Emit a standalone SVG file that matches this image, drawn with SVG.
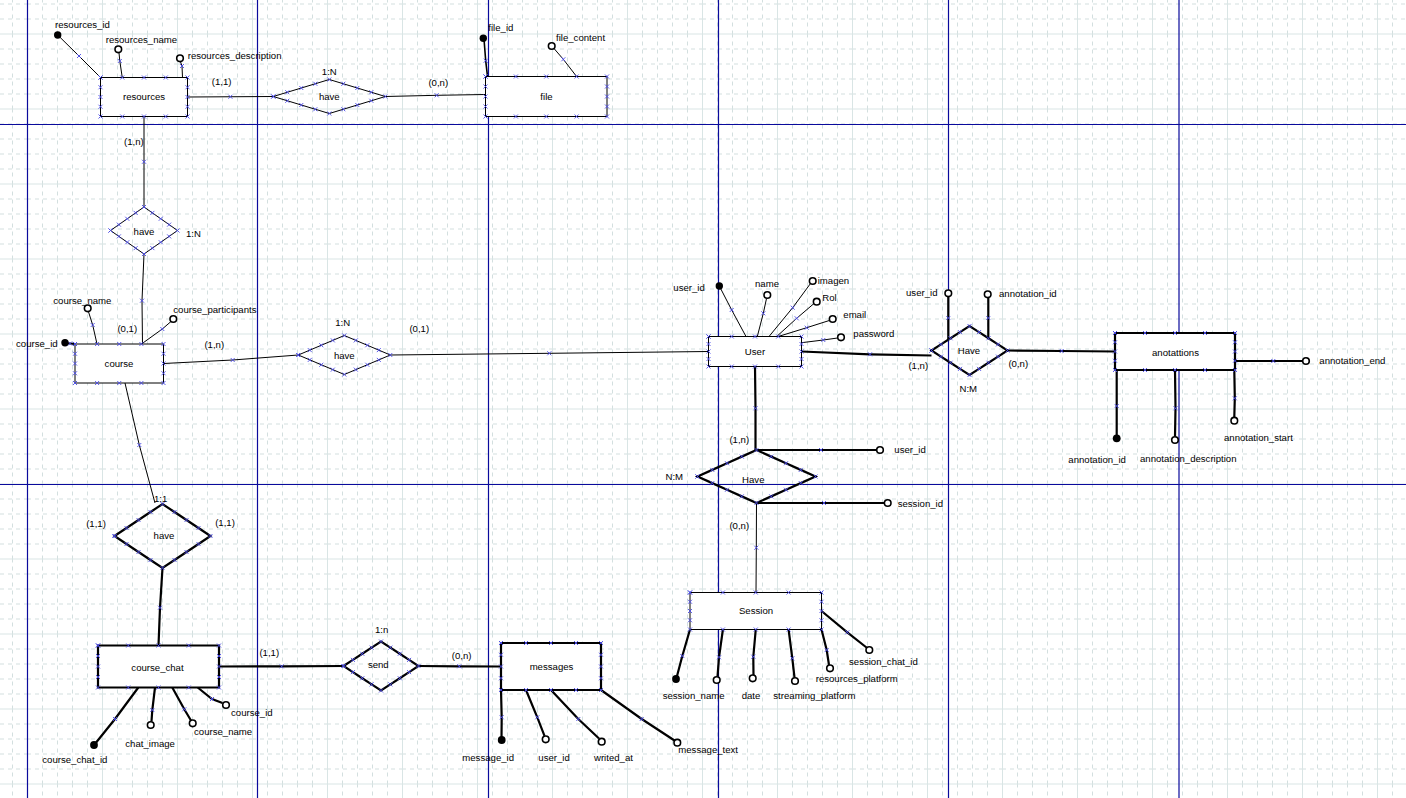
<svg xmlns="http://www.w3.org/2000/svg" width="1406" height="798" viewBox="0 0 1406 798">
<style>
.bg{fill:#fff}
.gs{stroke:#d9e5e5;stroke-width:1;fill:none}
.gd{stroke:#d3dfdf;stroke-width:1;fill:none;stroke-dasharray:4 4}
.pb{stroke:#0a0a9c;stroke-width:1.2;fill:none}
.e{fill:#fff;stroke:#000;stroke-width:1;marker-start:url(#x);marker-mid:url(#x);marker-end:url(#x)}
.e2{stroke-width:2.2}
.r{fill:none;stroke:#000;stroke-width:1;marker-start:url(#x);marker-mid:url(#x);marker-end:url(#x)}
.r2{stroke-width:2.2}
.c{fill:none;stroke:#000;stroke-width:1;marker-mid:url(#x)}
.c2{stroke-width:2.2}
.k{fill:#000}
.o{fill:#fff;stroke:#000;stroke-width:1.6}
text{font-family:"Liberation Sans",Arial,sans-serif;font-size:9.6px;fill:#000}
.m{text-anchor:middle}
</style>
<defs>
<marker id="x" viewBox="-3 -3 6 6" markerWidth="6" markerHeight="6" markerUnits="userSpaceOnUse" refX="0" refY="0" orient="0" overflow="visible">
<path d="M-2,-2L2,2M2,-2L-2,2" stroke="#4a4ae6" stroke-width="0.9" fill="none"/>
</marker>
<pattern id="grid" patternUnits="userSpaceOnUse" x="27" y="33.5" width="75" height="75">
<path class="gd" d="M15.5,0V75M30.5,0V75M45.5,0V75M60.5,0V75M0,15.5H75M0,30.5H75M0,45.5H75M0,60.5H75"/>
<path class="gs" d="M0.5,0V75M0,0.5H75"/>
</pattern>
</defs>
<rect class="bg" x="0" y="0" width="1406" height="798"/>
<rect x="0" y="0" width="1406" height="798" fill="url(#grid)"/>
<g id="pagebreaks">
<path class="pb" d="M27.5,0V798M257.5,0V798M488.5,0V798M718.5,0V798M948.5,0V798M1179,0V798M0,124.5H1406M0,484.5H1406"/>
</g>

<g id="connectors">
<path class="c" d="M187.5,97L230.4,96.75L273.3,96.5"/>
<path class="c" d="M385.3,96.5L436.7,95.3L485.5,94.5"/>
<path class="c" d="M144,116.5L144,161.75L144,207"/>
<path class="c" d="M144,254L142,300.7L142.5,344"/>
<path class="c" d="M163.5,363.5L232.7,360L298.3,355"/>
<path class="c" d="M390.3,355L549.3,353.3L708.5,351.5"/>
<path class="c c2" d="M801.5,351.5L870,354.3L931.5,355.5"/>
<path class="c c2" d="M1007.5,350.5L1061.7,351L1115,351.5"/>
<path class="c c2" d="M755,366.5L755.5,408.3L755.5,450"/>
<path class="c" d="M756.5,503L756.3,547.7L756,592.5"/>
<path class="c" d="M125,383L139.3,445L155,503"/>
<path class="c c2" d="M162.5,568L160,607.7L158.5,645.5"/>
<path class="c c2" d="M219,666.5L281.7,666.3L343.5,666"/>
<path class="c c2" d="M418.5,666L459.3,666.3L501,666.5"/>
</g>

<g id="attribute-links">
<path class="c" d="M57.7,35L79,56L100.5,77.5"/>
<path class="c" d="M119,52.8L119.8,61L122.25,77.5"/>
<path class="c" d="M180.5,61.8L182,66L182.5,77.5"/>
<path class="c c2" d="M484,39L485.7,60.7L487.5,76.5" style="stroke-width:1.6"/>
<path class="c" d="M554,48.5L563.3,59.3L576.6,76.5"/>
<path class="c c2" d="M65,343L70,343.5L75,344"/>
<path class="c" d="M88.5,311.8L92.7,325L97,344"/>
<path class="c" d="M171,321.5L162.3,329L141.5,344"/>
<path class="c" d="M719.3,286L731.7,310L746,336.5"/>
<path class="c" d="M766.5,298.5L763.3,313.3L757.3,336.5"/>
<path class="c" d="M810.5,283.5L792.7,307.7L769,336.5"/>
<path class="c" d="M814,303.5L796.7,318.3L776.7,336.5"/>
<path class="c" d="M829.3,320.5L806.7,327.7L778.3,336.5"/>
<path class="c" d="M837.5,338L823.3,340L801.5,342.7"/>
<path class="c c2" d="M948.3,297L948.3,318L948.3,339.7"/>
<path class="c c2" d="M988.3,298L988.3,318L988.3,338.1"/>
<path class="c c2" d="M1235,361L1273.3,361L1302.5,361"/>
<path class="c c2" d="M1116.7,370L1116.7,406L1116.7,438"/>
<path class="c c2" d="M1175,370L1175.5,408.3L1175,436.5"/>
<path class="c c2" d="M1234.3,370L1234.8,398.3L1234.3,417"/>
<path class="c c2" d="M756.5,450L821,450L876.5,450"/>
<path class="c c2" d="M756.5,503L824,503L884,503"/>
<path class="c c2" d="M690,629.5L682.3,656L676.5,678"/>
<path class="c c2" d="M722.9,629.5L719,657.3L717.5,676.5"/>
<path class="c c2" d="M755.75,629.5L753.3,656.7L753.5,675"/>
<path class="c c2" d="M788.6,629.5L792.3,658.3L794.5,677.5"/>
<path class="c c2" d="M821.5,629.5L826.7,650L829,665"/>
<path class="c c2" d="M821.5,611L847.3,632.3L866.5,647.5"/>
<path class="c c2" d="M138.3,687.5L115,719L94.5,744.5"/>
<path class="c c2" d="M155,687.5L152.3,710L151.5,721.5"/>
<path class="c c2" d="M172.3,687.5L184.3,709.3L191,720.5"/>
<path class="c c2" d="M197.7,687.5L212,699L222.5,703"/>
<path class="c c2" d="M501,690L501.7,717.3L501.5,739"/>
<path class="c c2" d="M526,690L537.3,717.3L544.5,735.8"/>
<path class="c c2" d="M551,690L578.3,719L599,738.5"/>
<path class="c c2" d="M601,690L641.7,719L674.5,740.5"/>
</g>

<g id="resources">
<path class="e" d="M100.5,77.5L122.25,77.5L144,77.5L165.75,77.5L187.5,77.5L187.5,87.25L187.5,97L187.5,106.75L187.5,116.5L165.75,116.5L144,116.5L122.25,116.5L100.5,116.5L100.5,106.75L100.5,97L100.5,87.25Z"/>
<text class="m" x="144" y="100.3">resources</text>
<circle class="k" cx="57.7" cy="35" r="3.7"/>
<circle class="o" cx="118.3" cy="49.3" r="3.3"/>
<circle class="o" cx="180" cy="58.3" r="3.3"/>
<text x="55" y="28.3">resources_id</text>
<text x="105.7" y="43.3">resources_name</text>
<text x="187.7" y="59.3">resources_description</text>
</g>

<g id="file">
<path class="e" d="M485.5,76.5L515.9,76.5L546.25,76.5L576.6,76.5L607,76.5L607,86.5L607,96.5L607,106.5L607,116.5L576.6,116.5L546.25,116.5L515.9,116.5L485.5,116.5L485.5,106.5L485.5,96.5L485.5,86.5Z"/>
<text class="m" x="546.5" y="99.8">file</text>
<circle class="k" cx="483.3" cy="38.3" r="3.7"/>
<circle class="o" cx="551.7" cy="46" r="3.3"/>
<text x="488.3" y="30.6">file_id</text>
<text x="556" y="41">file_content</text>
</g>

<g id="rel-resources-file">
<path class="r" d="M273.3,96.5L287.3,92.25L301.3,88L315.3,83.75L329.3,79.5L343.3,83.75L357.3,88L371.3,92.25L385.3,96.5L371.3,100.75L357.3,105L343.3,109.25L329.3,113.5L315.3,109.25L301.3,105L287.3,100.75Z"/>
<text class="m" x="329.3" y="100">have</text>
<text class="m" x="329.3" y="75">1:N</text>
<text class="m" x="221.7" y="85">(1,1)</text>
<text class="m" x="438.3" y="86">(0,n)</text>
</g>

<g id="rel-resources-course">
<path class="r" d="M110.5,230.5L118.875,224.625L127.25,218.75L135.625,212.875L144,207L152.375,212.875L160.75,218.75L169.125,224.625L177.5,230.5L169.125,236.375L160.75,242.25L152.375,248.125L144,254L135.625,248.125L127.25,242.25L118.875,236.375Z"/>
<text class="m" x="144" y="235">have</text>
<text x="186" y="236.6">1:N</text>
<text x="124" y="145">(1,n)</text>
<text class="m" x="127.3" y="331.6">(0,1)</text>
</g>

<g id="course">
<path class="e" d="M75,344L97.1,344L119.25,344L141.4,344L163.5,344L163.5,353.75L163.5,363.5L163.5,373.25L163.5,383L141.4,383L119.25,383L97.1,383L75,383L75,373.25L75,363.5L75,353.75Z"/>
<text class="m" x="119" y="367.3">course</text>
<circle class="k" cx="65" cy="342.7" r="3.7"/>
<circle class="o" cx="87.7" cy="308.3" r="3.3"/>
<circle class="o" cx="173.3" cy="319" r="3.3"/>
<text x="16" y="346.6">course_id</text>
<text x="53.3" y="304">course_name</text>
<text x="173.3" y="313.3">course_participants</text>
</g>

<g id="rel-course-user">
<path class="r" d="M298.3,355L309.8,350.125L321.3,345.25L332.8,340.375L344.3,335.5L355.8,340.375L367.3,345.25L378.8,350.125L390.3,355L378.8,359.875L367.3,364.75L355.8,369.625L344.3,374.5L332.8,369.625L321.3,364.75L309.8,359.875Z"/>
<text class="m" x="344.3" y="359.3">have</text>
<text class="m" x="342.7" y="326">1:N</text>
<text class="m" x="214.3" y="347.6">(1,n)</text>
<text class="m" x="419.3" y="332.3">(0,1)</text>
</g>

<g id="user">
<path class="e" d="M708.5,336.5L731.75,336.5L755,336.5L778.25,336.5L801.5,336.5L801.5,344L801.5,351.5L801.5,359L801.5,366.5L778.25,366.5L755,366.5L731.75,366.5L708.5,366.5L708.5,359L708.5,351.5L708.5,344Z"/>
<text class="m" x="755" y="354.8">User</text>
<circle class="k" cx="719.3" cy="286" r="3.7"/>
<circle class="o" cx="767.3" cy="295" r="3.3"/>
<circle class="o" cx="812.7" cy="281" r="3.3"/>
<circle class="o" cx="816.7" cy="301.7" r="3.3"/>
<circle class="o" cx="832.7" cy="319" r="3.3"/>
<circle class="o" cx="841" cy="337.3" r="3.3"/>
<text x="673.3" y="291">user_id</text>
<text x="755" y="287.3">name</text>
<text x="817.7" y="284.3">imagen</text>
<text x="822.3" y="300.6">Rol</text>
<text x="843.3" y="317.6">email</text>
<text x="853.3" y="336.6">password</text>
</g>

<g id="rel-user-annotations">
<path class="r r2" d="M931.5,350.5L941,344.375L950.5,338.25L960,332.125L969.5,326L979,332.125L988.5,338.25L998,344.375L1007.5,350.5L998,356.625L988.5,362.75L979,368.875L969.5,375L960,368.875L950.5,362.75L941,356.625Z"/>
<text class="m" x="969" y="354.3">Have</text>
<circle class="o" cx="948.3" cy="293.3" r="3.3"/>
<circle class="o" cx="987.7" cy="294.3" r="3.3"/>
<text x="906" y="295.6">user_id</text>
<text x="999" y="297.3">annotation_id</text>
<text class="m" x="918.3" y="369.3">(1,n)</text>
<text class="m" x="1018.3" y="367.3">(0,n)</text>
<text class="m" x="968.3" y="391.6">N:M</text>
</g>

<g id="anotattions">
<path class="e e2" d="M1115,333L1145,333L1175,333L1205,333L1235,333L1235,342.25L1235,351.5L1235,360.75L1235,370L1205,370L1175,370L1145,370L1115,370L1115,360.75L1115,351.5L1115,342.25Z"/>
<text class="m" x="1175.5" y="355.8">anotattions</text>
<circle class="o" cx="1306" cy="361" r="3.3"/>
<circle class="k" cx="1116.7" cy="438.3" r="3.9"/>
<circle class="o" cx="1175" cy="440" r="3.3"/>
<circle class="o" cx="1234.3" cy="420.7" r="3.3"/>
<text x="1319.3" y="364.3">annotation_end</text>
<text x="1068.3" y="462.6">annotation_id</text>
<text x="1140" y="461.6">annotation_description</text>
<text x="1224" y="441">annotation_start</text>
</g>

<g id="rel-user-session">
<path class="r r2" d="M697.5,476.5L712.25,469.875L727,463.25L741.75,456.625L756.5,450L771.25,456.625L786,463.25L800.75,469.875L815.5,476.5L800.75,483.125L786,489.75L771.25,496.375L756.5,503L741.75,496.375L727,489.75L712.25,483.125Z"/>
<text class="m" x="753.3" y="482.6">Have</text>
<circle class="o" cx="880" cy="450" r="3.3"/>
<circle class="o" cx="887.7" cy="503" r="3.3"/>
<text x="894.3" y="453.3">user_id</text>
<text x="897.7" y="506.6">session_id</text>
<text class="m" x="739.3" y="443.3">(1,n)</text>
<text class="m" x="674.3" y="480">N:M</text>
<text class="m" x="739.3" y="529">(0,n)</text>
</g>

<g id="session">
<path class="e" d="M690,592.5L722.9,592.5L755.75,592.5L788.6,592.5L821.5,592.5L821.5,601.75L821.5,611L821.5,620.25L821.5,629.5L788.6,629.5L755.75,629.5L722.9,629.5L690,629.5L690,620.25L690,611L690,601.75Z"/>
<text class="m" x="756" y="614.3">Session</text>
<circle class="k" cx="676" cy="679" r="3.9"/>
<circle class="o" cx="716.7" cy="680" r="3.3"/>
<circle class="o" cx="752.7" cy="678.3" r="3.3"/>
<circle class="o" cx="795" cy="681" r="3.3"/>
<circle class="o" cx="830" cy="668.3" r="3.3"/>
<circle class="o" cx="869.3" cy="650" r="3.3"/>
<text x="662.7" y="699">session_name</text>
<text x="741.7" y="699">date</text>
<text x="773.3" y="699">streaming_platform</text>
<text x="815.7" y="682">resources_platform</text>
<text x="849" y="665">session_chat_id</text>
</g>

<g id="rel-course-chat">
<path class="r r2" d="M114.5,536L126.5,528L138.5,520L150.5,512L162.5,504L174.5,512L186.5,520L198.5,528L210.5,536L198.5,544L186.5,552L174.5,560L162.5,568L150.5,560L138.5,552L126.5,544Z"/>
<text class="m" x="164" y="539">have</text>
<text class="m" x="160.7" y="501.6">1:1</text>
<text class="m" x="96" y="526.6">(1,1)</text>
<text class="m" x="225" y="525.6">(1,1)</text>
</g>

<g id="course_chat">
<path class="e e2" d="M98,645.5L128.25,645.5L158.5,645.5L188.75,645.5L219,645.5L219,656L219,666.5L219,677L219,687.5L188.75,687.5L158.5,687.5L128.25,687.5L98,687.5L98,677L98,666.5L98,656Z"/>
<text class="m" x="157.5" y="671">course_chat</text>
<circle class="k" cx="94" cy="745" r="3.9"/>
<circle class="o" cx="150.7" cy="725" r="3.3"/>
<circle class="o" cx="192.7" cy="723.3" r="3.3"/>
<circle class="o" cx="226" cy="705" r="3.3"/>
<text x="42.3" y="762.6">course_chat_id</text>
<text x="125.3" y="746.6">chat_image</text>
<text x="194" y="735">course_name</text>
<text x="231" y="715.6">course_id</text>
</g>

<g id="rel-send">
<path class="r r2" d="M343.5,666L352.875,659.875L362.25,653.75L371.625,647.625L381,641.5L390.375,647.625L399.75,653.75L409.125,659.875L418.5,666L409.125,672.125L399.75,678.25L390.375,684.375L381,690.5L371.625,684.375L362.25,678.25L352.875,672.125Z"/>
<text class="m" x="378.3" y="667.6">send</text>
<text class="m" x="381.7" y="633.3">1:n</text>
<text class="m" x="269.3" y="656">(1,1)</text>
<text class="m" x="461.7" y="659">(0,n)</text>
</g>

<g id="messages">
<path class="e e2" d="M501,643L526,643L551,643L576,643L601,643L601,654.75L601,666.5L601,678.25L601,690L576,690L551,690L526,690L501,690L501,678.25L501,666.5L501,654.75Z"/>
<text class="m" x="551.5" y="670">messages</text>
<circle class="k" cx="501.7" cy="740" r="3.9"/>
<circle class="o" cx="545.7" cy="739.3" r="3.3"/>
<circle class="o" cx="601.7" cy="741.7" r="3.3"/>
<circle class="o" cx="677.3" cy="742.7" r="3.3"/>
<text x="462.3" y="761">message_id</text>
<text x="538.3" y="761">user_id</text>
<text x="594" y="761">writed_at</text>
<text x="678.3" y="752.6">message_text</text>
</g>
</svg>
